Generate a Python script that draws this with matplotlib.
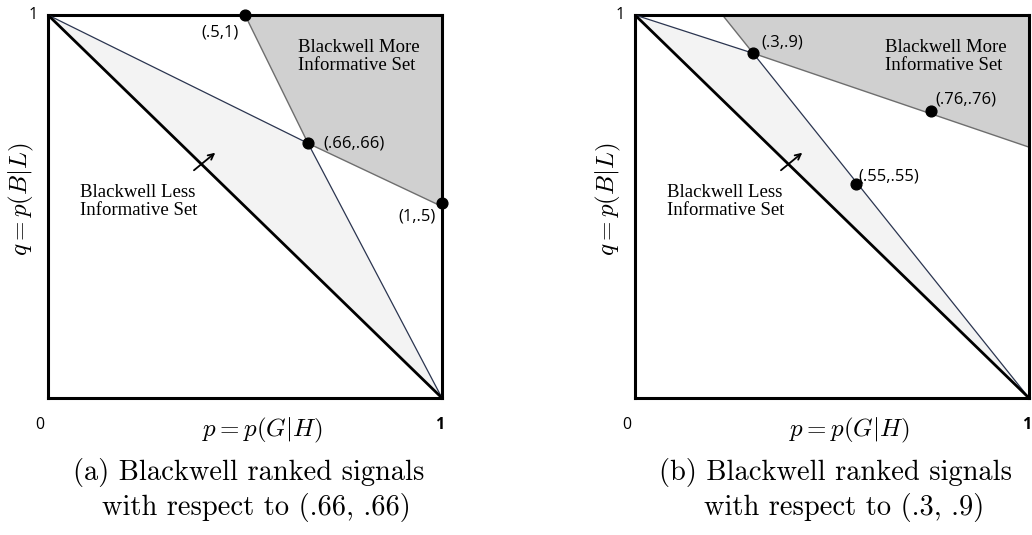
import numpy as np
import matplotlib
matplotlib.use("Agg")
import matplotlib.pyplot as plt
from matplotlib.patches import Polygon

plt.rcParams['mathtext.fontset'] = 'cm'

# panel (a): reference signal (.66,.66)
ref_a = (0.66, 0.665)
more_a = [(0.5, 1.0), (1.0, 1.0), (1.0, 0.5), ref_a]
less_a = [(0.0, 1.0), ref_a, (1.0, 0.0)]
dots_a = [(0.5, 1.0), ref_a, (1.0, 0.51)]
labels_a = ["(.5,1)", "(.66,.66)", "(1,.5)"]
label_pos_a = [(0.39, 0.955), (0.70, 0.665), (0.89, 0.473)]

# panel (b): reference signal (.3,.9)
ref_b = (0.3, 0.9)
more_b = [(0.222, 1.0), (1.0, 1.0), (1.0, 0.655), ref_b]
less_b = [(0.0, 1.0), ref_b, (1.0, 0.0)]
dots_b = [ref_b, (0.75, 0.75), (0.56, 0.56)]
labels_b = ["(.3,.9)", "(.76,.76)", "(.55,.55)"]
label_pos_b = [(0.322, 0.928), (0.763, 0.78), (0.568, 0.578)]

captions = ["(a) Blackwell ranked signals\nwith respect to (.66, .66)",
            "(b) Blackwell ranked signals\nwith respect to (.3, .9)"]

fig = plt.figure(figsize=(10.32, 5.35), dpi=100)
ax_a = fig.add_axes([48/1032, 137/535, 394/1032, 383/535])
ax_b = fig.add_axes([635/1032, 137/535, 394/1032, 383/535])

sans = ['Open Sans', 'DejaVu Sans']
serif = ['Liberation Serif', 'DejaVu Serif']
navy = '#2b3550'

def draw(ax, more, less, ref, dots, labels, label_pos, caption):
    ax.set_xlim(0, 1)
    ax.set_ylim(0, 1)
    ax.set_xticks([])
    ax.set_yticks([])
    for s in ax.spines.values():
        s.set_linewidth(2.2)
        s.set_color('black')
    ax.add_patch(Polygon(less, closed=True, facecolor='#f3f3f3', edgecolor='none', zorder=1))
    ax.add_patch(Polygon(more, closed=True, facecolor='#d0d0d0', edgecolor='#6e6e6e',
                         linewidth=1.0, zorder=2, clip_on=False))
    # thin lines from corners through the reference signal
    ax.plot([0, ref[0]], [1, ref[1]], color=navy, lw=0.9, zorder=3)
    ax.plot([ref[0], 1], [ref[1], 0], color=navy, lw=0.9, zorder=3)
    ax.plot([0, 1], [1, 0], color='black', lw=2.0, zorder=4)
    xs = [d[0] for d in dots]
    ys = [d[1] for d in dots]
    ax.scatter(xs, ys, s=60, color='black', zorder=6, clip_on=False)
    for lab, (lx, ly) in zip(labels, label_pos):
        ax.text(lx, ly, lab, fontsize=12, family=sans, ha='left', va='center', zorder=7)
    ax.annotate("", xy=(0.43, 0.645), xytext=(0.365, 0.59),
                arrowprops=dict(arrowstyle='->', color='black', lw=1.3), zorder=7)
    ax.text(0.634, 0.8925, "Blackwell More\nInformative Set", fontsize=13.5,
            family=serif, ha='left', va='center', linespacing=1.1, zorder=7)
    ax.text(0.08, 0.513, "Blackwell Less\nInformative Set", fontsize=13.5,
            family=serif, ha='left', va='center', linespacing=1.1, zorder=7)
    ax.text(-0.022, -0.07, "0", fontsize=11.5, family=sans, ha='center', va='center')
    ax.text(1.006, -0.07, "1", fontsize=11.5, family=sans, fontweight='bold', ha='right', va='center')
    ax.text(-0.038, 1.0, "1", fontsize=11.5, family=sans, ha='center', va='center')
    ax.text(0.545, -0.085, r"$p = p(G|H)$", fontsize=18, ha='center', va='center')
    ax.text(-0.068, 0.52, r"$q = p(B|L)$", fontsize=18, ha='center', va='center', rotation=90)
    l1, l2 = caption.split("\n")
    ax.text(0.51, -0.195, l1, fontsize=20.5, family=['cmr10', 'DejaVu Serif'],
            ha='center', va='center')
    ax.text(0.53, -0.285, l2, fontsize=20.5, family=['cmr10', 'DejaVu Serif'],
            ha='center', va='center')

draw(ax_a, more_a, less_a, ref_a, dots_a, labels_a, label_pos_a, captions[0])
draw(ax_b, more_b, less_b, ref_b, dots_b, labels_b, label_pos_b, captions[1])

fig.savefig("out.png", dpi=100)
